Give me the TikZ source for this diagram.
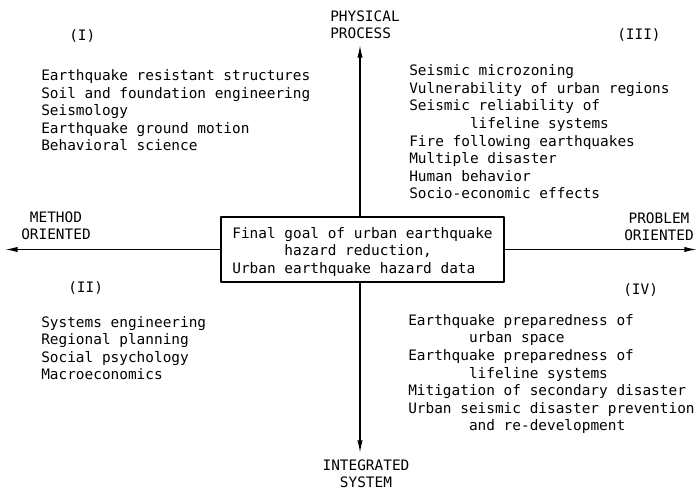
\documentclass[tikz,border=0pt]{standalone}
\usepackage{fontspec}
\newfontfamily\typefont{DejaVu Sans Mono}
\usetikzlibrary{arrows.meta}
\begin{document}
\begin{tikzpicture}[x=0.025cm, y=-0.025cm, line join=round, >={Latex[length=9pt,width=3.8pt]},
		font=\typefont\fontsize{10.25}{12.55}\selectfont,
		txt/.style={anchor=base west, align=left, inner sep=0pt},
		axislbl/.style={anchor=base, align=center, inner sep=0pt},
		axisline/.style={line width=1pt}]
	\useasboundingbox (0,0) rectangle (699,490);
	%%%%%%%%%%%%%%%%%%%%%%%%%%%%%%%%%
	\coordinate (N) at (360,45);
	\coordinate (S) at (360,453);
	\coordinate (W) at (5,249.5);
	\coordinate (E) at (697,249.5);
	%%%%%%%%%%%%%%%%%%%%%%%%%%%%%%%%%
	\node[draw, line width=1.3pt, align=left, inner sep=0pt, minimum width=7.075cm, minimum height=1.625cm] (goal) at (362.5,249.5)
		{\rule{0pt}{11pt}Final goal of urban earthquake\\\phantom{000000}hazard reduction,\\Urban earthquake hazard data};
	%%%%%%%%%%%%%%%%%%%%%%%%%%%%%%%%%
	\begin{scope}[axisline]
		\draw[->] (N |- goal.north) -- (N);
		\draw[->] (S |- goal.south) -- (S);
		\draw[->] (goal.west) -- (W);
		\draw[->] (goal.east) -- (E);
	\end{scope}
	%%%%%%%%%%%%%%%%%%%%%%%%%%%%%%%%%
	% multi-line nodes sit on their last line
	\node[txt] (phys) at (330,39) {PHYSICAL\\PROCESS};
	\node[axislbl] (integ) at (366,488) {INTEGRATED\\SYSTEM};
	\node[axislbl] (method) at (56,240) {METHOD\\ORIENTED};
	\node[axislbl] (problem) at (659,241) {PROBLEM\\ORIENTED};
	%%%%%%%%%%%%%%%%%%%%%%%%%%%%%%%%%
	\node[txt] (q1) at (69,41) {(I)};
	\node[txt] (q2) at (68,293) {(II)};
	\node[txt] (q3) at (617,40) {(III)};
	\node[txt] (q4) at (623,295) {(IV)};
	%%%%%%%%%%%%%%%%%%%%%%%%%%%%%%%%%
	\node[txt] (list1) at (41,151) {Earthquake resistant structures\\Soil and foundation engineering\\Seismology\\Earthquake ground motion\\Behavioral science};
	\node[txt] (list2) at (41,380) {Systems engineering\\Regional planning\\Social psychology\\Macroeconomics};
	\node[txt] (list3) at (409,199) {Seismic microzoning\\Vulnerability of urban regions\\Seismic reliability of\\\phantom{0000000}lifeline systems\\Fire following earthquakes\\Multiple disaster\\Human behavior\\Socio-economic effects};
	\node[txt] (list4) at (408,431) {Earthquake preparedness of\\\phantom{0000000}urban space\\Earthquake preparedness of\\\phantom{0000000}lifeline systems\\Mitigation of secondary disaster\\Urban seismic disaster prevention\\\phantom{0000000}and re-development};
	%%%%%%%%%%%%%%%%%%%%%%%%%%%%%%%%%
\end{tikzpicture}
\end{document}
